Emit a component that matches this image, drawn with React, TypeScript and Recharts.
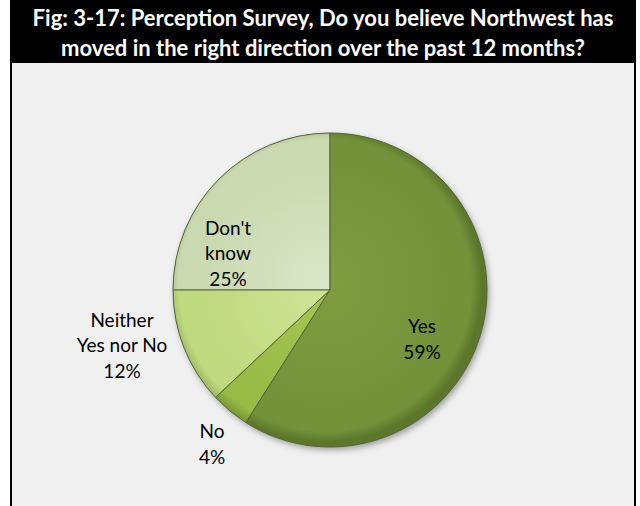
import React from "react";
import { PieChart, Pie, Cell } from "recharts";

const categories = ["Don't know", "Neither Yes nor No", "No", "Yes"];
const percents = [25, 12, 4, 59];
const labelLines = [["Don't", "know"], ["Neither", "Yes nor No"], ["No"], ["Yes"]];
const titleLines = [
  "Fig: 3-17: Perception Survey, Do you believe Northwest has",
  "moved in the right direction over the past 12 months?",
];

const data = categories.map((name, i) => ({ name, value: percents[i], lines: labelLines[i] }));

// [inner, mid, edge] shades per slice
const shades = [
  ["#dbe6c8", "#cad9b0", "#a9b98e"],
  ["#cde496", "#c0da7f", "#9cb865"],
  ["#a6c655", "#97bb45", "#7a9a34"],
  ["#7f9e3f", "#74923a", "#5c772b"],
];

const CX = 325;
const CY = 285;
const R = 157;

// where excel put the labels (best fit), relative to the pie centre
const labelOffset = [
  [-102, -38],
  [-208, 54],
  [-118, 153],
  [92, 48],
];

const font = "Lato, 'Open Sans', sans-serif";

function renderLabel(props: any) {
  const { cx, cy, index } = props;
  const d = data[index];
  const lines = [...d.lines, `${d.value}%`];
  const [ox, oy] = labelOffset[index];
  const lh = 25.5;
  const y0 = cy + oy - ((lines.length - 1) * lh) / 2;
  return (
    <text
      x={cx + ox}
      y={y0}
      textAnchor="middle"
      dominantBaseline="central"
      fill="#000"
      fontSize={19}
      fontFamily={font}
    >
      {lines.map((l, i) => (
        <tspan key={i} x={cx + ox} y={y0 + i * lh}>
          {l}
        </tspan>
      ))}
    </text>
  );
}

export default function App() {
  return (
    <div style={{ position: "absolute", left: 0, top: 0, width: 640, height: 506, background: "#fff" }}>
      <div
        style={{
          position: "absolute",
          left: 10,
          top: 0,
          width: 622,
          height: 506,
          background: "#f0f0f0",
          borderLeft: "2px solid #000",
          borderRight: "2px solid #000",
        }}
      />
      <div
        style={{
          position: "absolute",
          left: 10,
          top: 0,
          width: 626,
          height: 63,
          background: "#000",
          color: "#fff",
          fontFamily: font,
          fontWeight: 700,
          fontSize: 22,
          lineHeight: "30px",
          textAlign: "center",
          paddingTop: 3,
          boxSizing: "border-box",
          whiteSpace: "nowrap",
        }}
      >
        {titleLines.map((t, i) => (
          <div key={i}>{t}</div>
        ))}
      </div>
      <div style={{ position: "absolute", left: 0, top: 0 }}>
        <PieChart width={640} height={506}>
          <defs>
            {shades.map((s, i) => (
              <radialGradient key={i} id={`g${i}`} gradientUnits="userSpaceOnUse" cx={CX} cy={CY} r={R}>
                <stop offset="0%" stopColor={s[0]} />
                <stop offset="80%" stopColor={s[1]} />
                <stop offset="93%" stopColor={s[1]} />
                <stop offset="100%" stopColor={s[2]} />
              </radialGradient>
            ))}
            <filter id="sh" x="-20%" y="-20%" width="140%" height="140%">
              <feDropShadow dx="2" dy="3" stdDeviation="3" floodColor="#000" floodOpacity="0.35" />
            </filter>
          </defs>
          <Pie
            data={[{ value: 100 }]}
            dataKey="value"
            cx={CX}
            cy={CY}
            outerRadius={R}
            startAngle={90}
            endAngle={450}
            fill="#74923a"
            stroke="none"
            style={{ filter: "url(#sh)" }}
            isAnimationActive={false}
          />
          <Pie
            data={data}
            dataKey="value"
            nameKey="name"
            cx={CX}
            cy={CY}
            outerRadius={R}
            startAngle={90}
            endAngle={450}
            stroke="#55663a"
            strokeWidth={1}
            labelLine={false}
            label={renderLabel}
            isAnimationActive={false}
          >
            {data.map((d, i) => (
              <Cell key={d.name} fill={`url(#g${i})`} />
            ))}
          </Pie>
        </PieChart>
      </div>
    </div>
  );
}
